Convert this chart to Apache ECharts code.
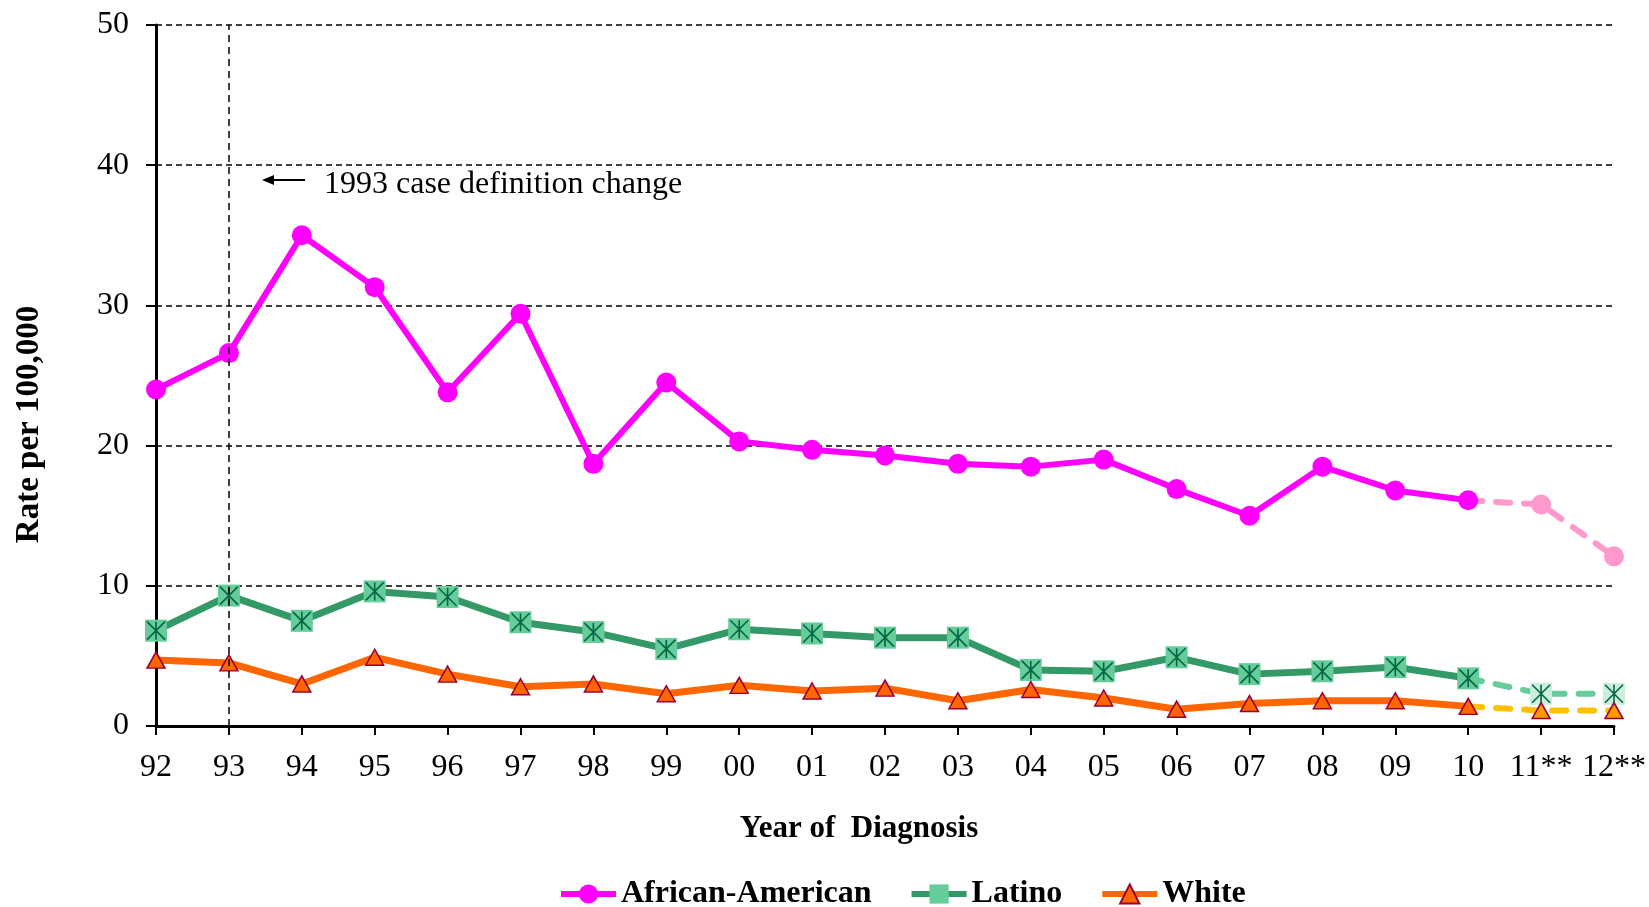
<!DOCTYPE html>
<html><head><meta charset="utf-8">
<script src="https://cdn.jsdelivr.net/npm/echarts@6/dist/echarts.min.js"></script>
<style>html,body{margin:0;padding:0;background:#fff}#c{width:1649px;height:907px}</style>
</head><body><div id="c"></div><script>
// ---- data ----
const years = ['92','93','94','95','96','97','98','99','00','01','02','03','04','05','06','07','08','09','10','11**','12**'];
const africanAmerican = [24.0,26.6,35.0,31.3,23.8,29.4,18.7,24.5,20.3,19.7,19.3,18.7,18.5,19.0,16.9,15.0,18.5,16.8,16.1,15.8,12.1];
const latino = [6.8,9.3,7.5,9.6,9.2,7.4,6.7,5.5,6.9,6.6,6.3,6.3,4.0,3.9,4.9,3.7,3.9,4.2,3.4,2.3,2.3];
const white = [4.7,4.5,3.0,4.9,3.7,2.8,3.0,2.3,2.9,2.5,2.7,1.8,2.6,2.0,1.2,1.6,1.8,1.8,1.4,1.1,1.1];
const projectedYears = ['11**','12**'];
const caseDefinitionYear = '93';
const yMin = 0, yMax = 50, yStep = 10;
const annotationText = '1993 case definition change';

// ---- helpers ----
const FONT = "'Liberation Serif','Times New Roman',serif";
const firstProj = years.indexOf(projectedYears[0]);
const lastActual = firstProj - 1;
const solidPart = arr => arr.map((v, i) => i <= lastActual ? v : null);
const projPart = arr => arr.map((v, i) => i < lastActual ? null : (i === lastActual ? {value: v, symbol: 'none'} : v));
const starPath = 'path://M0,0L10,10M10,0L0,10M5,0L5,10';

const chart = echarts.init(document.getElementById('c'), null, {renderer: 'canvas'});
const dash = [14, 14];

chart.setOption({
  animation: false,
  backgroundColor: '#fff',
  grid: {left: 156, right: 35, top: 25, bottom: 181, containLabel: false},
  legend: {
    data: ['African-American', 'Latino', 'White'],
    left: 553, top: 873,
    itemWidth: 55, itemHeight: 24, itemGap: 37,
    lineStyle: {width: 6},
    textStyle: {fontFamily: FONT, fontSize: 32, fontWeight: 'bold', color: '#000'}
  },
  xAxis: {
    type: 'category', data: years, boundaryGap: false,
    name: 'Year of  Diagnosis', nameLocation: 'middle', nameGap: 87,
    nameTextStyle: {fontFamily: FONT, fontSize: 31, fontWeight: 'bold', color: '#000', padding: [0, 52, 0, 0]},
    axisLine: {show: true, lineStyle: {color: '#000', width: 3}},
    axisTick: {show: true, length: 9, lineStyle: {color: '#000', width: 2}},
    axisLabel: {fontFamily: FONT, fontSize: 32, color: '#000', margin: 26, interval: 0},
    splitLine: {show: false}
  },
  yAxis: {
    type: 'value', min: yMin, max: yMax, interval: yStep,
    name: 'Rate per 100,000', nameLocation: 'middle', nameRotate: 90, nameGap: 110,
    nameTextStyle: {fontFamily: FONT, fontSize: 33, fontWeight: 'bold', color: '#000', padding: [0, 98, 0, 0]},
    axisLine: {show: true, lineStyle: {color: '#000', width: 3}},
    axisTick: {show: true, length: 10, lineStyle: {color: '#000', width: 2}},
    axisLabel: {fontFamily: FONT, fontSize: 32, color: '#000', margin: 27},
    splitLine: {show: true, lineStyle: {color: '#000', width: 1.5, type: [6, 4]}}
  },
  series: [
    // projected (dashed) parts drawn first
    {name: 'AA projected', type: 'line', data: projPart(africanAmerican), z: 2,
      symbol: 'circle', symbolSize: 20, showAllSymbol: true,
      lineStyle: {color: '#FF99CC', width: 6, type: dash, cap: 'round'},
      itemStyle: {color: '#FF99CC'}},
    {name: 'Latino projected', type: 'line', data: projPart(latino), z: 2,
      symbol: 'rect', symbolSize: 22, showAllSymbol: true,
      lineStyle: {color: '#66CC99', width: 6, type: dash, cap: 'round'},
      itemStyle: {color: '#CCEEDD'}},
    {name: 'White projected', type: 'line', data: projPart(white), z: 2,
      symbol: 'triangle', symbolSize: [18, 16], showAllSymbol: true,
      lineStyle: {color: '#FFC000', width: 6, type: dash, cap: 'round'},
      itemStyle: {color: '#FF9900', borderColor: '#990033', borderWidth: 1.5}},
    // actual
    {name: 'African-American', type: 'line', data: solidPart(africanAmerican), z: 3,
      symbol: 'circle', symbolSize: 20, showAllSymbol: true,
      lineStyle: {color: '#FF00FF', width: 6},
      itemStyle: {color: '#FF00FF'},
      markLine: {
        silent: true, symbol: ['none', 'none'], animation: false,
        label: {show: false},
        lineStyle: {color: '#000', width: 1.5, type: [7, 5]},
        data: [{xAxis: caseDefinitionYear}]
      }},
    {name: 'Latino', type: 'line', data: solidPart(latino), z: 3,
      symbol: 'rect', symbolSize: 22, showAllSymbol: true,
      lineStyle: {color: '#339966', width: 7},
      itemStyle: {color: '#66CC99'}},
    {name: 'White', type: 'line', data: solidPart(white), z: 3,
      symbol: 'triangle', symbolSize: [18, 16], showAllSymbol: true,
      lineStyle: {color: '#FF6600', width: 7},
      itemStyle: {color: '#FF6600', borderColor: '#990033', borderWidth: 1.5}},
    // asterisk overlay on Latino markers
    {name: 'Latino star', type: 'line', data: latino, z: 4, silent: true,
      symbol: starPath, symbolSize: 18, showAllSymbol: true,
      lineStyle: {opacity: 0, width: 0},
      itemStyle: {color: 'rgba(0,0,0,0)', borderColor: '#006644', borderWidth: 1.6}}
  ],
  graphic: [
    {type: 'line', shape: {x1: 270, y1: 180, x2: 305, y2: 180}, style: {stroke: '#000', lineWidth: 2}},
    {type: 'polygon', shape: {points: [[262, 180], [274, 175], [274, 185]]}, style: {fill: '#000'}},
    {type: 'text', left: 324, top: 169, style: {text: annotationText, font: '32px ' + FONT, fill: '#000'}}
  ]
});
</script></body></html>
